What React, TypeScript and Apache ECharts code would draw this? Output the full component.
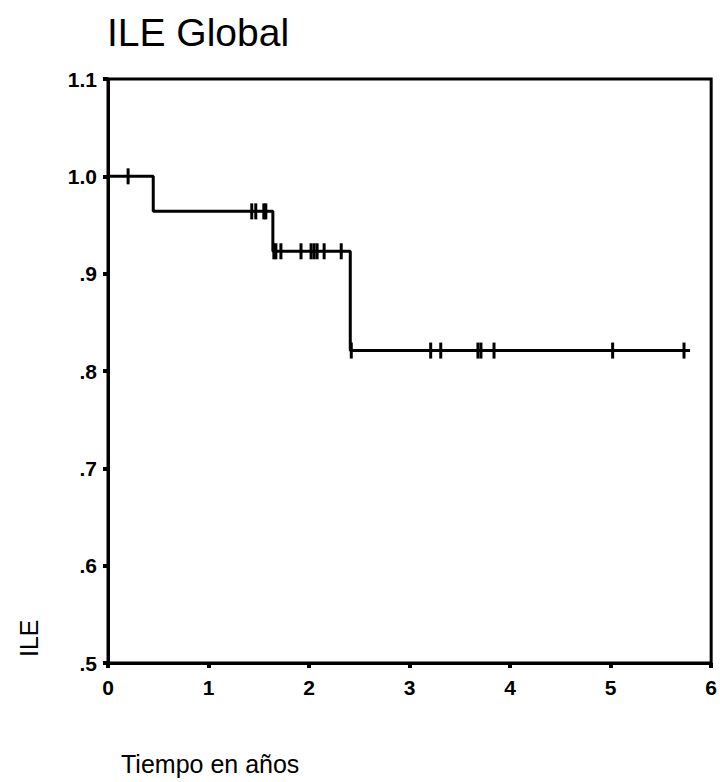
import React, { useEffect, useRef } from "react";
import * as echarts from "echarts";

// Kaplan-Meier step points (time in years, survival)
const stepTimes = [0, 0.45, 1.64, 2.41, 5.79];
const stepSurvival = [1.0, 0.964, 0.923, 0.821, 0.821];

// Censored observations (time, survival level)
const censorTimes = [
  0.2,
  1.43, 1.47, 1.55, 1.57,
  1.65, 1.67, 1.72, 1.92, 2.02, 2.05, 2.08, 2.15, 2.32,
  2.42, 3.21, 3.31, 3.68, 3.71, 3.84, 5.02, 5.73,
];
const censorLevels = [
  1.0,
  0.964, 0.964, 0.964, 0.964,
  0.923, 0.923, 0.923, 0.923, 0.923, 0.923, 0.923, 0.923, 0.923,
  0.821, 0.821, 0.821, 0.821, 0.821, 0.821, 0.821, 0.821,
];

const yTickLabels: Record<string, string> = {
  "1.1": "1.1",
  "1": "1.0",
  "0.9": ".9",
  "0.8": ".8",
  "0.7": ".7",
  "0.6": ".6",
  "0.5": ".5",
};

const titleText = "ILE Global";
const xAxisName = "Tiempo en años";
const yAxisName = "ILE";

const FONT = "'Liberation Sans', Arial, Helvetica, sans-serif";

export default function App() {
  const ref = useRef<HTMLDivElement>(null);
  useEffect(() => {
    if (!ref.current) return;
    const chart = echarts.init(ref.current, undefined, { renderer: "svg" });
    chart.setOption({
      animation: false,
      backgroundColor: "#fff",
      textStyle: { fontFamily: FONT },
      grid: {
        left: 108,
        right: 6,
        top: 79,
        bottom: 119,
        show: true,
        borderColor: "#000",
        borderWidth: 3,
        backgroundColor: "transparent",
      },
      xAxis: {
        type: "value",
        min: 0,
        max: 6,
        interval: 1,
        axisLine: { show: true, lineStyle: { color: "#000", width: 3 } },
        axisTick: { show: true, inside: false, length: 5, lineStyle: { color: "#000", width: 4 } },
        axisLabel: {
          color: "#000",
          fontSize: 21,
          fontWeight: "bold",
          fontFamily: FONT,
          margin: 14,
        },
        splitLine: { show: false },
      },
      yAxis: {
        type: "value",
        min: 0.5,
        max: 1.1,
        interval: 0.1,
        axisLine: { show: true, lineStyle: { color: "#000", width: 3 } },
        axisTick: { show: true, inside: false, length: 5, lineStyle: { color: "#000", width: 4 } },
        axisLabel: {
          color: "#000",
          fontSize: 21,
          fontWeight: "bold",
          fontFamily: FONT,
          margin: 11,
          formatter: (v: number) => yTickLabels[String(Math.round(v * 10) / 10)] ?? String(v),
        },
        splitLine: { show: false },
      },
      series: [
        {
          type: "line",
          step: "end",
          data: stepTimes.map((t, i) => [t, stepSurvival[i]]),
          symbol: "none",
          lineStyle: { color: "#000", width: 3 },
          z: 3,
        },
        {
          type: "scatter",
          data: censorTimes.map((t, i) => [t, censorLevels[i]]),
          symbol: "rect",
          symbolSize: [3, 16],
          itemStyle: { color: "#000", opacity: 1 },
          z: 4,
        },
      ],
      graphic: [
        {
          type: "text",
          left: 107,
          top: 13,
          style: {
            text: titleText,
            fill: "#000",
            font: `39px ${FONT}`,
          },
        },
        {
          type: "text",
          x: 121,
          y: 751,
          style: {
            text: xAxisName,
            fill: "#000",
            font: `25px ${FONT}`,
          },
        },
        {
          type: "text",
          x: 16,
          y: 657,
          rotation: Math.PI / 2,
          style: {
            text: yAxisName,
            fill: "#000",
            font: `25px ${FONT}`,
          },
        },
      ],
    });
    return () => chart.dispose();
  }, []);
  return (
    <div
      ref={ref}
      style={{ position: "fixed", left: 0, top: 0, width: 720, height: 782, background: "#fff" }}
    />
  );
}
